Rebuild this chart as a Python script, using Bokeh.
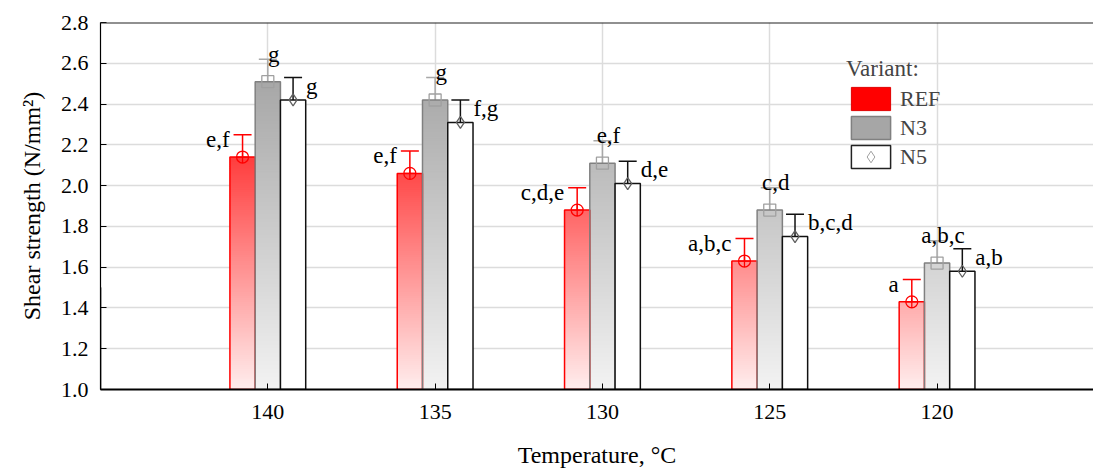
import numpy as np
from bokeh.plotting import figure
from bokeh.models import (ColumnDataSource, FixedTicker, Whisker, TeeHead, Legend,
                          LegendItem, Span, NumeralTickFormatter)
from bokeh.core.properties import value
from bokeh.embed import file_html
from bokeh.resources import INLINE

# ---------------- data ----------------
categories = ["140", "135", "130", "125", "120"]
series_names = ["REF", "N3", "N5"]
ref_vals = [2.14, 2.06, 1.88, 1.63, 1.43]
n3_vals = [2.51, 2.42, 2.11, 1.88, 1.62]
n5_vals = [2.42, 2.31, 2.01, 1.75, 1.58]
ref_err = [0.11, 0.11, 0.11, 0.11, 0.11]
n3_err = [0.11, 0.11, 0.11, 0.11, 0.11]
n5_err = [0.11, 0.11, 0.11, 0.11, 0.11]
ref_labels = ["e,f", "e,f", "c,d,e", "a,b,c", "a"]
n3_labels = ["g", "g", "e,f", "c,d", "a,b,c"]
n5_labels = ["g", "f,g", "d,e", "b,c,d", "a,b"]
y_ticks = [1.0, 1.2, 1.4, 1.6, 1.8, 2.0, 2.2, 2.4, 2.6, 2.8]

FONT = "Liberation Serif, Times New Roman, Tinos, serif"
BAR_W = 0.151
OFFSETS = [-BAR_W, 0.0, BAR_W]
Y0 = 1.0

p = figure(width=1093, height=470, x_range=(-1.0, 4.935), y_range=(1.0, 2.8),
           output_backend="svg", toolbar_location=None,
           min_border_left=100, min_border_right=0, min_border_top=22, min_border_bottom=81)
p.outline_line_color = None
p.background_fill_color = "white"

# grid
p.xgrid.grid_line_color = "#DCDCDC"
p.ygrid.grid_line_color = "#DCDCDC"
p.xgrid.grid_line_width = 1.5
p.ygrid.grid_line_width = 1.5

# axes
p.xaxis.ticker = FixedTicker(ticks=list(range(len(categories))))
p.xaxis.major_label_overrides = {i: c for i, c in enumerate(categories)}
p.yaxis.ticker = FixedTicker(ticks=y_ticks)
p.yaxis.formatter = NumeralTickFormatter(format="0.0")
for ax in (p.xaxis[0], p.yaxis[0]):
    ax.major_label_text_font = FONT
    ax.major_label_text_font_size = "22px"
    ax.major_label_text_color = "black"
    ax.axis_label_text_font = FONT
    ax.axis_label_text_font_size = "24px"
    ax.axis_label_text_font_style = "normal"
    ax.axis_label_text_color = "black"
    ax.major_tick_in = 6
    ax.major_tick_out = 0
    ax.minor_tick_in = 0
    ax.minor_tick_out = 0
    ax.major_tick_line_color = "black"
    ax.axis_line_color = "black"
p.xaxis.axis_line_width = 2
p.yaxis.axis_line_width = 1.2
p.xaxis.axis_label = "Temperature, °C"
p.yaxis.axis_label = "Shear strength (N/mm²)"
p.xaxis.major_label_standoff = 15
p.yaxis.major_label_standoff = 12
p.xaxis.axis_label_standoff = 20
p.yaxis.axis_label_standoff = 13

p.add_layout(Span(location=2.8, dimension="width", line_color="#222222", line_width=2))


def red_color(y):
    g = int(max(0, min(255, 238 - 155 * (y - Y0))))
    return "#%02x%02x%02x" % (255, g, g)


def gray_color(y):
    g = int(max(0, min(255, 243 - 50 * (y - Y0))))
    return "#%02x%02x%02x" % (g, g, g)


def gradient_strips(vals, offset, color_fn, step=0.01):
    d = dict(left=[], right=[], bottom=[], top=[], color=[])
    for i, v in enumerate(vals):
        x = i + offset
        for b in np.arange(Y0, v, step):
            t = min(b + step * 1.6, v)
            d["left"].append(x - BAR_W / 2)
            d["right"].append(x + BAR_W / 2)
            d["bottom"].append(b)
            d["top"].append(t)
            d["color"].append(color_fn(b + step / 2))
    return ColumnDataSource(d)


# REF gradient bars
p.quad(left="left", right="right", bottom="bottom", top="top", fill_color="color",
       line_color=None, source=gradient_strips(ref_vals, OFFSETS[0], red_color))
# N3 gradient bars
p.quad(left="left", right="right", bottom="bottom", top="top", fill_color="color",
       line_color=None, source=gradient_strips(n3_vals, OFFSETS[1], gray_color))

x_idx = np.arange(len(categories))
series = [
    (ref_vals, ref_err, ref_labels, OFFSETS[0], None, "#FF0000", "#FF0000", "circle_cross", "#FF0000", 12),
    (n3_vals, n3_err, n3_labels, OFFSETS[1], None, "#808080", "#A8A8A8", "square", "#A0A0A0", 12),
    (n5_vals, n5_err, n5_labels, OFFSETS[2], "white", "#111111", "#111111", "diamond", "#606060", 12),
]
label_style = [
    dict(text_align="right", text_baseline="middle", x_offset=-13, y_offset=5),
    dict(text_align="center", text_baseline="alphabetic", x_offset=6, y_offset=-5),
    dict(text_align="left", text_baseline="top", x_offset=13, y_offset=-4),
]

for k, (vals, errs, labels, off, fill, outline, ecol, marker, mcol, msize) in enumerate(series):
    xs = x_idx + off
    vals = np.array(vals)
    errs = np.array(errs)
    src = ColumnDataSource(dict(x=xs, top=vals, upper=vals + errs, lower=vals - errs,
                                label=labels))
    p.vbar(x="x", top="top", bottom=Y0, width=BAR_W, source=src,
           fill_color=fill, line_color=outline, line_width=1.5)
    p.scatter(x="x", y="top", source=src, marker=marker, size=msize,
              fill_color=None, line_color=mcol, line_width=1.3)
    wh = Whisker(base="x", upper="upper", lower="lower", source=src,
                 line_color=ecol, line_width=1.5,
                 upper_head=TeeHead(size=18, line_color=ecol, line_width=1.5),
                 lower_head=TeeHead(size=18, line_color=ecol, line_width=1.5))
    p.add_layout(wh)
    p.text(x="x", y="upper", text="label", source=src, text_font=value(FONT),
           text_font_size="23px", text_color="black", **label_style[k])

# legend (dummy renderers placed outside the visible range)
def dummy():
    return ColumnDataSource(dict(x=[-50.0], top=[1.5]))

leg_ref = p.vbar(x="x", top="top", bottom=Y0, width=0.1, source=dummy(),
                 fill_color="#FF0000", line_color="#E00000", line_width=1)
leg_n3 = p.vbar(x="x", top="top", bottom=Y0, width=0.1, source=dummy(),
                fill_color="#A6A6A6", line_color="#808080", line_width=1.5)
leg_n5 = p.vbar(x="x", top="top", bottom=Y0, width=0.1, source=dummy(),
                fill_color="white", line_color="#222222", line_width=1.5)
leg_n5m = p.scatter(x="x", y="top", source=dummy(), marker="diamond",
                    size=11, fill_color=None, line_color="#A0A0A0", line_width=1)
legend = Legend(items=[LegendItem(label=series_names[0], renderers=[leg_ref]),
                       LegendItem(label=series_names[1], renderers=[leg_n3]),
                       LegendItem(label=series_names[2], renderers=[leg_n5, leg_n5m])],
                title="Variant:", location=(746, 218))
legend.title_text_font = FONT
legend.title_text_font_size = "23px"
legend.title_text_font_style = "normal"
legend.title_standoff = 2
legend.label_text_font = FONT
legend.label_text_font_size = "22px"
legend.glyph_width = 49
legend.glyph_height = 29
legend.label_height = 29
legend.spacing = 0
legend.padding = 0
legend.margin = 0
legend.label_standoff = 5
legend.border_line_color = None
legend.background_fill_alpha = 0
p.add_layout(legend)

open("out.html", "w").write(file_html(p, INLINE))
